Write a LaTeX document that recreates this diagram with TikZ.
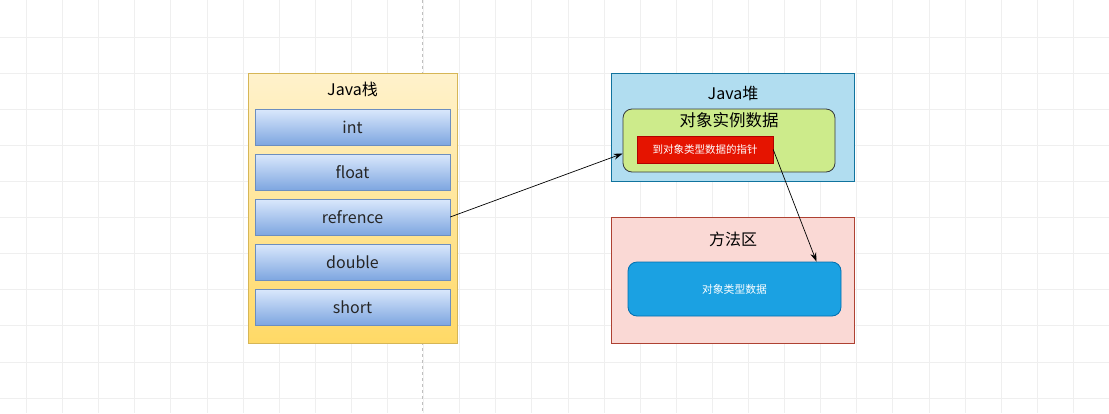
\documentclass[tikz,border=0pt]{standalone}
\usepackage{xcolor}
\usepackage{fontspec}
\setmainfont{Noto Sans CJK SC}
\usepackage{tikz}
\usetikzlibrary{positioning, arrows.meta, calc}

\definecolor{stacktop}{HTML}{FFF2CC}
\definecolor{stackbot}{HTML}{FFD966}
\definecolor{stackline}{HTML}{D6B656}
\definecolor{slottop}{HTML}{DAE8FC}
\definecolor{slotbot}{HTML}{7EA6E0}
\definecolor{slotline}{HTML}{6C8EBF}
\definecolor{heapfill}{HTML}{B1DDF0}
\definecolor{heapline}{HTML}{10739E}
\definecolor{instfill}{HTML}{CDEB8B}
\definecolor{instline}{HTML}{36393D}
\definecolor{ptrfill}{HTML}{E51400}
\definecolor{ptrline}{HTML}{B20000}
\definecolor{methfill}{HTML}{FAD9D5}
\definecolor{methline}{HTML}{AE4132}
\definecolor{klassfill}{HTML}{1BA1E2}
\definecolor{klassline}{HTML}{006EAF}
\definecolor{gridgray}{HTML}{EFEFEF}

\begin{document}
\begin{tikzpicture}[x=1pt, y=-1pt,
	every node/.style={inner sep=0pt, font=\fontsize{16}{19}\selectfont},
	slot/.style={draw=slotline, top color=slottop, bottom color=slotbot, minimum width=195pt, minimum height=36pt, text=black!85},
	box/.style={line width=0.8pt},
	arr/.style={-{Stealth[length=9pt, width=6pt]}, line width=0.7pt}]
				\fill [white] (0,0) rectangle (1109,413);
				\useasboundingbox (0,0) rectangle (1109,413);
				\foreach \gx in {0,...,29}
					\draw [gridgray, line width=1pt] (26.5+36.1*\gx,0) -- ++(0,413);
				\foreach \gy in {0,...,10}
					\draw [gridgray, line width=1pt] (0,37.1+36.1*\gy) -- ++(1109,0);
				\draw [black!25, dashed, dash pattern=on 3pt off 3pt] (422,0) -- (422,413);
				
				\node [box, draw=stackline, top color=stacktop, bottom color=stackbot, minimum width=209pt, minimum height=270pt] (stack) at (352.5,208) {};
				\node (stacktitle) at (352.5,89) {Java栈};
				\foreach \t [count=\i] in {int,float,refrence,double,short}
					\node [slot] (s\i) at (352.5,127+45*\i-45) {\t};
				
				\node [box, draw=heapline, fill=heapfill, minimum width=243pt, minimum height=108pt] (heap) at (732.5,127) {};
				\node (heaptitle) at (733,93) {Java堆};
				\node [box, draw=instline, fill=instfill, rounded corners=9pt, minimum width=212pt, minimum height=63pt] (inst) at (729,140.5) {};
				\node [font=\fontsize{16.5}{19}\selectfont] (insttitle) at (729,120) {对象实例数据};
				\node [draw=ptrline, fill=ptrfill, text=white, font=\fontsize{10.5}{13}\selectfont, minimum width=136pt, minimum height=27pt] (ptr) at (705,149.5) {到对象类型数据的指针};
				
				\node [box, draw=methline, fill=methfill, minimum width=243pt, minimum height=126pt] (meth) at (732.5,280) {};
				\node (methtitle) at (733,239) {方法区};
				\node [box, draw=klassline, fill=klassfill, rounded corners=9pt, text=white, font=\fontsize{10.8}{13}\selectfont, minimum width=213pt, minimum height=54pt] (klass) at (734.5,289) {对象类型数据};
				
				\draw [arr] (s3.east) -- (inst.187);
				\draw [arr] (ptr.east) -- ([xshift=82pt]klass.north);
				\end{tikzpicture}
\end{document}
